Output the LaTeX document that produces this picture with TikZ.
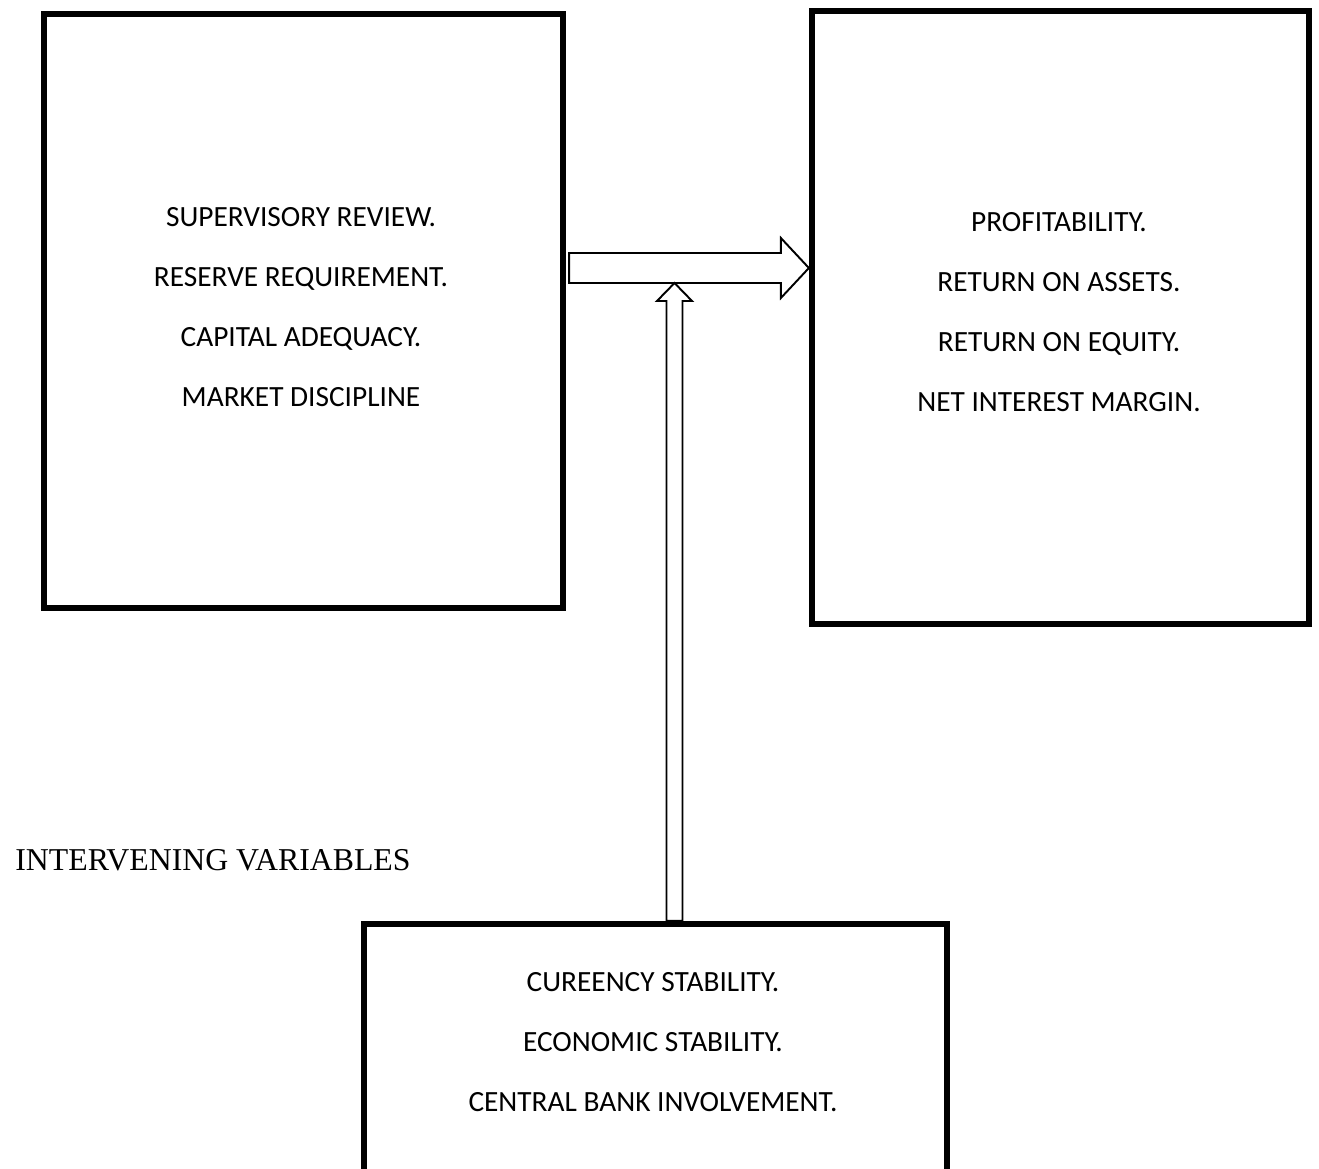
\documentclass[tikz,border=0pt]{standalone}
\usepackage{fontspec}
\setmainfont{Carlito}
\newfontfamily\timesfont{Liberation Serif}
\usetikzlibrary{calc}
\begin{document}
\begin{tikzpicture}[x=0.02cm,y=-0.02cm,
	box/.style={draw,line width=3.6pt,inner sep=0pt},
	txt/.style={align=center,inner sep=0pt,font=\fontsize{16.7}{34.1}\selectfont},
	blockarrow/.style={draw,fill=white,line width=1.1pt,miter limit=20}]
	\useasboundingbox (0,0) rectangle (1319,1169);
	\clip (0,0) rectangle (1319,1169);
	% boxes
	\node[box,minimum width=10.38cm,minimum height=11.88cm] (indep) at (303.5,311) {};
	\node[box,minimum width=9.94cm,minimum height=12.26cm] (dep) at (1060.5,317.5) {};
	\node[box,minimum width=11.66cm,minimum height=5.4cm] (interv) at (655.5,1059) {};
	% texts
	\node[txt] (indeptxt) at (301,307) {SUPERVISORY REVIEW.\\RESERVE REQUIREMENT.\\CAPITAL ADEQUACY.\\MARKET DISCIPLINE};
	\node[txt] (deptxt) at (1059,312) {PROFITABILITY.\\RETURN ON ASSETS.\\RETURN ON EQUITY.\\NET INTEREST MARGIN.};
	\node[txt] (intervtxt) at (653,1042) {CUREENCY STABILITY.\\ECONOMIC STABILITY.\\CENTRAL BANK INVOLVEMENT.};
	\node[anchor=west,inner sep=0pt,font=\timesfont\fontsize{18.1}{20}\selectfont] (ivlabel) at (15,860) {INTERVENING VARIABLES};
	% block arrows
	\path (indep.east) ++(0,-43) coordinate (hs);
	\coordinate (ht) at (dep.west |- hs);
	\draw[blockarrow] ($(hs)+(3,-15)$) -- ($(ht)+(-28,-15)$) -- ($(ht)+(-28,-30)$) -- (ht)
		-- ($(ht)+(-28,30)$) -- ($(ht)+(-28,15)$) -- ($(hs)+(3,15)$) -- cycle;
	\path (interv.north) ++(19,0) coordinate (vs);
	\coordinate (vt) at ($(vs |- hs)+(0,15)$);
	\draw[blockarrow] ($(vs)+(-8,0)$) -- ($(vt)+(-8,18)$) -- ($(vt)+(-17.5,18)$) -- (vt)
		-- ($(vt)+(17.5,18)$) -- ($(vt)+(8,18)$) -- ($(vs)+(8,0)$) -- cycle;
\end{tikzpicture}
\end{document}
